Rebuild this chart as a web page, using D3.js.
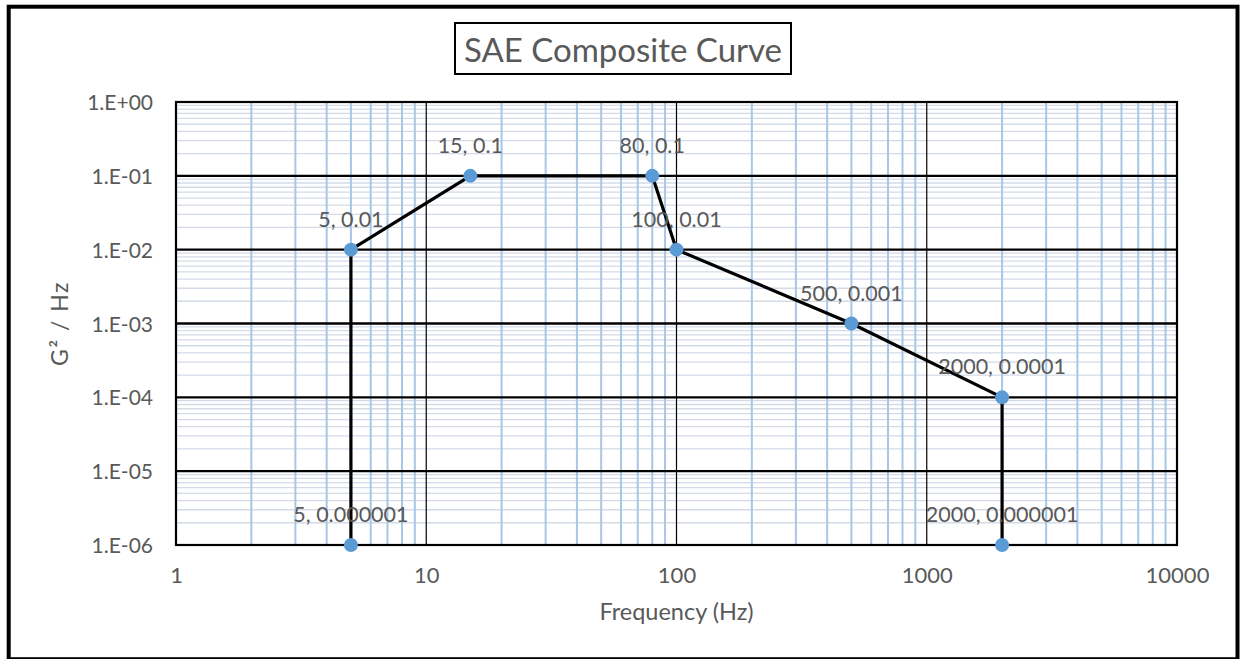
<!DOCTYPE html>
<html>
<head>
<meta charset="utf-8">
<script src="https://cdn.jsdelivr.net/npm/d3@7"></script>
<style>
  html, body { margin: 0; padding: 0; background: #ffffff; }
  svg { display: block; }
  text { font-family: Lato, "Open Sans", sans-serif; fill: #595959; }
</style>
</head>
<body>
<svg id="chart" width="1240" height="659"></svg>
<script>
// SAE composite random-vibration profile (frequency in Hz, PSD in G²/Hz)
const frequencies = [5, 5, 15, 80, 100, 500, 2000, 2000];
const psdValues   = [0.000001, 0.01, 0.1, 0.1, 0.01, 0.001, 0.0001, 0.000001];

const xTickValues = [1, 10, 100, 1000, 10000];
const xTickLabels = ["1", "10", "100", "1000", "10000"];
const yTickValues = [1, 0.1, 0.01, 0.001, 0.0001, 0.00001, 0.000001];
const yTickLabels = ["1.E+00", "1.E-01", "1.E-02", "1.E-03", "1.E-04", "1.E-05", "1.E-06"];

const titleText = "SAE Composite Curve";
const xTitle = "Frequency (Hz)";
const yTitle = "G² / Hz";

const svg = d3.select("#chart");
const plot = { left: 176, right: 1177, top: 102, bottom: 545 };

const x = d3.scaleLog().domain([1, 10000]).range([plot.left, plot.right]);
const y = d3.scaleLog().domain([0.000001, 1]).range([plot.bottom, plot.top]);

// minor values inside each decade (2..9 × 10^k)
function minors(domain) {
  const out = [];
  const lo = Math.round(Math.log10(domain[0])), hi = Math.round(Math.log10(domain[1]));
  for (let k = lo; k < hi; k++) {
    for (let m = 2; m <= 9; m++) out.push(m * Math.pow(10, k));
  }
  return out;
}

const grid = svg.append("g");

// minor horizontal gridlines
grid.selectAll("line.hmin").data(minors(y.domain())).join("line")
  .attr("x1", plot.left).attr("x2", plot.right)
  .attr("y1", d => y(d)).attr("y2", d => y(d))
  .attr("stroke", "#d3dbe7").attr("stroke-width", 1.3);

// minor vertical gridlines
grid.selectAll("line.vmin").data(minors(x.domain())).join("line")
  .attr("x1", d => x(d)).attr("x2", d => x(d))
  .attr("y1", plot.top).attr("y2", plot.bottom)
  .attr("stroke", "#a7c7e7").attr("stroke-width", 2);

// major vertical gridlines
grid.selectAll("line.vmaj").data(xTickValues.slice(1, -1)).join("line")
  .attr("x1", d => x(d)).attr("x2", d => x(d))
  .attr("y1", plot.top).attr("y2", plot.bottom)
  .attr("stroke", "#000").attr("stroke-width", 1.2);

// major horizontal gridlines
grid.selectAll("line.hmaj").data(yTickValues.slice(1, -1)).join("line")
  .attr("x1", plot.left).attr("x2", plot.right)
  .attr("y1", d => y(d)).attr("y2", d => y(d))
  .attr("stroke", "#000").attr("stroke-width", 2.4);

// plot area border
svg.append("rect")
  .attr("x", plot.left).attr("y", plot.top)
  .attr("width", plot.right - plot.left).attr("height", plot.bottom - plot.top)
  .attr("fill", "none").attr("stroke", "#000").attr("stroke-width", 2.2);

// axes (labels only; lines drawn by the gridlines above)
const xAxis = d3.axisBottom(x).tickValues(xTickValues)
  .tickFormat((d, i) => xTickLabels[i]).tickSize(0).tickPadding(0);
const gx = svg.append("g").attr("transform", `translate(0,${plot.bottom})`).call(xAxis);
gx.select(".domain").remove();
gx.selectAll("text").attr("dy", null).attr("y", 38)
  .style("font-size", "22px").style("font-family", "Lato, sans-serif").attr("fill", "#595959");

const yAxis = d3.axisLeft(y).tickValues(yTickValues)
  .tickFormat((d, i) => yTickLabels[i]).tickSize(0).tickPadding(0);
const gy = svg.append("g").attr("transform", `translate(153,0)`).call(yAxis);
gy.select(".domain").remove();
gy.selectAll("text").attr("x", 0).attr("dy", "0.36em")
  .style("font-size", "21px").style("font-family", "Lato, sans-serif").attr("fill", "#595959");

// profile line
const pts = frequencies.map((f, i) => ({ f, p: psdValues[i] }));
svg.append("path")
  .datum(pts)
  .attr("d", d3.line().x(d => x(d.f)).y(d => y(d.p)))
  .attr("fill", "none").attr("stroke", "#000").attr("stroke-width", 3.2)
  .attr("stroke-linejoin", "round");

// markers
svg.selectAll("circle.pt").data(pts).join("circle")
  .attr("cx", d => x(d.f)).attr("cy", d => y(d.p)).attr("r", 7)
  .attr("fill", "#5b9bd5");

// data labels
svg.selectAll("text.lbl").data(pts).join("text")
  .attr("x", d => x(d.f)).attr("y", d => y(d.p) - 23)
  .attr("text-anchor", "middle")
  .style("font-size", "21.5px")
  .text(d => `${d.f}, ${d.p}`);

// axis titles
svg.append("text")
  .attr("x", (plot.left + plot.right) / 2).attr("y", 620)
  .attr("text-anchor", "middle").style("font-size", "23.5px")
  .text(xTitle);

svg.append("text")
  .attr("transform", `translate(68,${(plot.top + plot.bottom) / 2}) rotate(-90)`)
  .attr("text-anchor", "middle").style("font-size", "23px")
  .style("letter-spacing", "1.5px").attr("xml:space", "preserve")
  .text(yTitle);

// title box
svg.append("rect")
  .attr("x", 455).attr("y", 23).attr("width", 336).attr("height", 51)
  .attr("fill", "#fff").attr("stroke", "#000").attr("stroke-width", 2);
svg.append("text")
  .attr("x", 623).attr("y", 62)
  .attr("text-anchor", "middle").style("font-size", "33px")
  .text(titleText);

// outer frame
svg.append("rect")
  .attr("x", 8.7).attr("y", 6.7).attr("width", 1228.8).attr("height", 652.5)
  .attr("fill", "none").attr("stroke", "#000").attr("stroke-width", 4);
</script>
</body>
</html>
